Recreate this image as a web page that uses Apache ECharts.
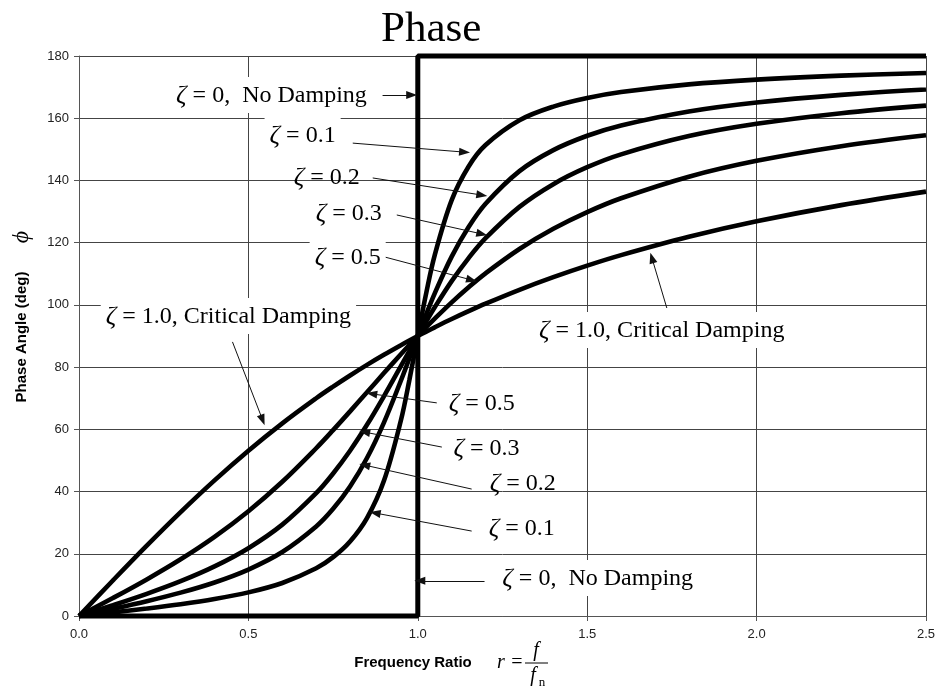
<!DOCTYPE html>
<html>
<head>
<meta charset="utf-8">
<script src="https://cdn.jsdelivr.net/npm/echarts@6/dist/echarts.min.js"></script>
<style>
html,body{margin:0;padding:0;background:#fff;}
#chart{width:940px;height:689px;}
</style>
</head>
<body>
<div id="chart"></div>
<script>
// Frequency ratio r = f / f_n (x values)
const ratio = [0,0.1,0.2,0.3,0.4,0.5,0.6,0.7,0.75,0.8,0.85,0.9,0.95,0.975,1.0,1.025,1.05,1.1,1.15,1.2,1.3,1.4,1.5,1.6,1.8,2.0,2.25,2.5];
// Phase angle (deg) for each damping ratio
const phaseZeta01 = [0,1.16,2.39,3.77,5.44,7.59,10.62,15.35,18.92,23.96,31.49,43.45,62.83,75.79,90,103.87,116.02,133.67,144.50,151.39,159.35,163.74,166.50,168.41,170.87,172.41,173.68,174.56];
const phaseZeta02 = [0,2.31,4.76,7.51,10.78,14.93,20.56,28.77,34.44,41.63,50.78,62.18,75.61,82.78,90,97.04,103.71,115.51,125.03,132.51,143.00,149.74,154.36,157.69,162.18,165.07,167.51,169.22];
const phaseZeta03 = [0,3.47,7.13,11.19,15.95,21.80,29.36,39.47,45.81,53.13,61.45,70.62,80.29,85.18,90,94.71,99.24,107.65,115.05,121.43,131.50,138.81,144.25,148.39,154.26,158.20,161.62,164.05];
const phaseZeta05 = [0,5.77,11.77,18.24,25.46,33.69,43.15,53.92,59.74,65.77,71.92,78.08,84.14,87.10,90,92.83,95.58,100.81,105.67,110.14,117.96,124.44,129.81,134.27,141.21,146.31,151.02,154.54];
const phaseZeta10 = [0,11.42,22.62,33.40,43.60,53.13,61.93,69.99,73.74,77.32,80.73,83.97,87.06,88.55,90,91.41,92.79,95.45,97.98,100.39,104.86,108.92,112.62,115.99,121.89,126.87,132.07,136.40];
// No damping: step at r = 1
const undampedRatio = [0,1,1,2.5];
const undampedPhase = [0,0,180,180];

// Axis ticks
const xTicks = [0,0.5,1.0,1.5,2.0,2.5];
const yTicks = [0,20,40,60,80,100,120,140,160,180];

// Annotation texts (zeta value, description) and anchor points in data units
const annoZeta = ['0','0.1','0.2','0.3','0.5','1.0','1.0','0.5','0.3','0.2','0.1','0'];
const annoDesc = [',  No Damping','','','','',', Critical Damping',', Critical Damping','','','','',',  No Damping'];
const annoAt = [[0.568,167.5],[0.660,154.6],[0.731,141.1],[0.796,129.5],[0.793,115.4],[0.441,96.4],[1.720,91.9],[1.189,68.5],[1.203,54.0],[1.310,42.8],[1.307,28.3],[1.531,12.2]];
const arrowFrom = [[0.896,167.5],[0.808,152.0],[0.867,140.8],[0.938,128.9],[0.902,115.4],[0.453,88.1],[1.735,99.0],[1.056,68.5],[1.071,54.3],[1.159,40.8],[1.159,27.3],[1.197,11.3]];
const arrowTo = [[0.982,167.5],[1.138,149.1],[1.189,135.3],[1.189,122.8],[1.159,108.0],[0.542,63.0],[1.691,115.1],[0.864,71.4],[0.843,59.1],[0.843,48.5],[0.874,33.1],[1.006,11.3]];
const annoBoxed = [true,true,false,true,true,true,true,true,true,false,true,true];

const pairs = (xs, ys) => xs.map((x, i) => [x, ys[i]]);
const SERIF = '"Liberation Serif","Times New Roman",serif';
const SANS = '"Liberation Sans",Arial,sans-serif';

const curveStyle = {color:'#000', width:4.6};
function curve(name, ys){
  return {
    name, type:'line', data: pairs(ratio, ys), showSymbol:false, symbol:'none',
    smooth:0.35, lineStyle:curveStyle, z:3, silent:true, clip:false
  };
}

const chart = echarts.init(document.getElementById('chart'), null, {renderer:'canvas'});
chart.setOption({
  animation:false,
  backgroundColor:'#fff',
  title:{
    text:'Phase', left:376, top:3,
    textStyle:{fontFamily:SERIF, fontSize:43, fontWeight:'normal', color:'#000'}
  },
  grid:{left:79, right:14, top:56, bottom:73, containLabel:false},
  xAxis:{
    type:'value', min:xTicks[0], max:xTicks[xTicks.length-1], interval:0.5,
    axisLine:{show:true, lineStyle:{color:'#555', width:1}},
    axisTick:{show:true, inside:false, length:5, lineStyle:{color:'#555'}},
    axisLabel:{margin:12, color:'#222', fontFamily:SANS, fontSize:13, formatter:v=>v.toFixed(1)},
    splitLine:{show:true, lineStyle:{color:'#444', width:1}}
  },
  yAxis:{
    type:'value', min:yTicks[0], max:yTicks[yTicks.length-1], interval:20,
    axisLine:{show:true, lineStyle:{color:'#555', width:1}},
    axisTick:{show:true, inside:false, length:5, lineStyle:{color:'#555'}},
    axisLabel:{margin:10, color:'#222', fontFamily:SANS, fontSize:13},
    splitLine:{show:true, lineStyle:{color:'#444', width:1}}
  },
  graphic:[
    {type:'text', x:22, y:337, rotation:Math.PI/2,
     style:{text:'Phase Angle (deg)', font:'bold 15px '+SANS, fill:'#000', align:'center', verticalAlign:'middle'}},
    {type:'text', x:22, y:237, rotation:Math.PI/2,
     style:{text:'ϕ', font:'italic 24px '+SERIF, fill:'#000', align:'center', verticalAlign:'middle'}},
    {type:'text', x:413, y:663,
     style:{text:'Frequency Ratio', font:'bold 15px '+SANS, fill:'#000', align:'center', verticalAlign:'middle'}},
    {type:'text', x:501, y:663,
     style:{text:'r', font:'italic 20px '+SERIF, fill:'#000', align:'center', verticalAlign:'middle'}},
    {type:'text', x:517, y:663,
     style:{text:'=', font:'20px '+SERIF, fill:'#000', align:'center', verticalAlign:'middle'}},
    {type:'text', x:536, y:651,
     style:{text:'f', font:'italic 20px '+SERIF, fill:'#000', align:'center', verticalAlign:'middle'}},
    {type:'line', shape:{x1:525, y1:663, x2:548, y2:663}, style:{stroke:'#000', lineWidth:1}},
    {type:'text', x:533, y:676,
     style:{text:'f', font:'italic 20px '+SERIF, fill:'#000', align:'center', verticalAlign:'middle'}},
    {type:'text', x:542, y:683,
     style:{text:'n', font:'13px '+SERIF, fill:'#000', align:'center', verticalAlign:'middle'}}
  ],
  series:[
    {
      name:'ζ = 0', type:'line', data: pairs(undampedRatio, undampedPhase),
      showSymbol:false, symbol:'none', smooth:false, clip:false, z:4, silent:true,
      lineStyle:{color:'#000', width:5}
    },
    curve('ζ = 0.1', phaseZeta01),
    curve('ζ = 0.2', phaseZeta02),
    curve('ζ = 0.3', phaseZeta03),
    curve('ζ = 0.5', phaseZeta05),
    curve('ζ = 1.0', phaseZeta10),
    {
      name:'annotations', type:'scatter', z:5, silent:true,
      symbolSize:1, itemStyle:{color:'rgba(0,0,0,0)'},
      labelLayout:{hideOverlap:false},
      data: annoAt.map((p, i) => ({
        value:p,
        label:{
          show:true, position:'inside',
          formatter:'{z|ζ} = ' + annoZeta[i] + annoDesc[i],
          fontFamily:SERIF, fontSize:24, color:'#000',
          textBorderWidth:0, opacity:1,
          backgroundColor: annoBoxed[i] ? '#fff' : 'transparent',
          padding:[6,5,4,5],
          rich:{z:{fontFamily:SERIF, fontStyle:'italic', fontSize:26, color:'#000', textBorderWidth:0}}
        }
      })),
      markLine:{
        silent:true, animation:false,
        symbol:['none','triangle'], symbolSize:[8,11],
        label:{show:false},
        lineStyle:{color:'#111', width:1, type:'solid'},
        data: arrowFrom.map((f, i) => [{coord:f}, {coord:arrowTo[i]}])
      }
    }
  ]
});
</script>
</body>
</html>
